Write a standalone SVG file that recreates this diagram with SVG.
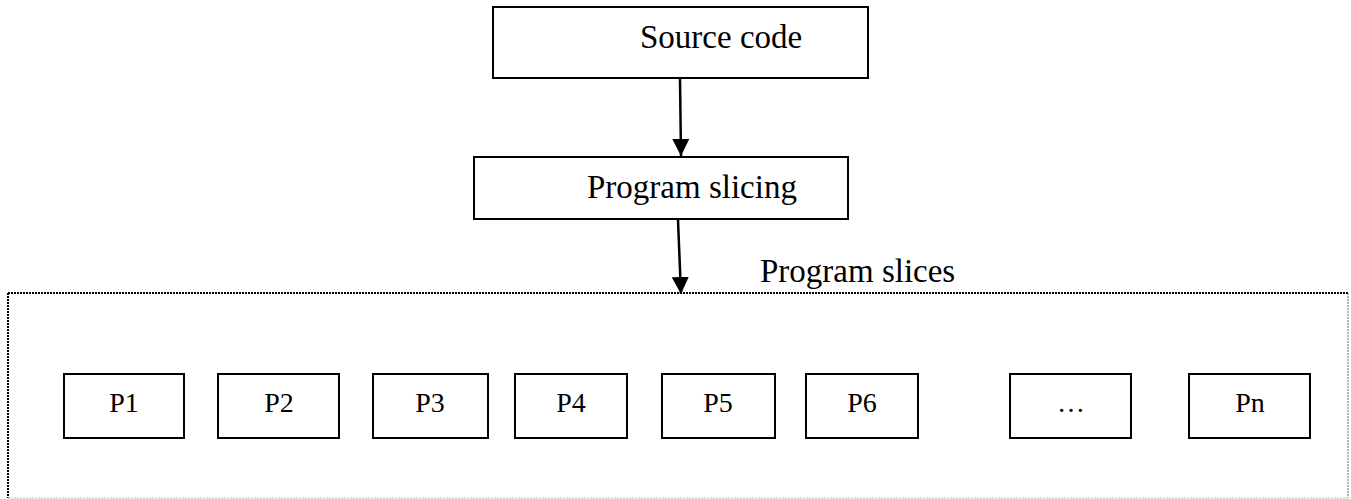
<svg xmlns="http://www.w3.org/2000/svg" width="1351" height="499" viewBox="0 0 1351 499">
<style>
.box{fill:#fff;stroke:#000;stroke-width:2}
.t{font-family:"Liberation Serif","Times New Roman",serif;font-size:33px;fill:#000}
.s{font-family:"Liberation Serif","Times New Roman",serif;font-size:28px;fill:#000;text-anchor:middle}
.conn{stroke:#000;stroke-width:2.5;fill:none}
</style>
<defs>
<marker id="arr" viewBox="0 0 10 10" refX="10" refY="5" markerWidth="6.8" markerHeight="6.8" markerUnits="strokeWidth" orient="auto">
<path d="M0,0 L10,5 L0,10 Z" fill="#000"/>
</marker>
</defs>
<rect width="1351" height="499" fill="#fff"/>
<g id="container">
<line x1="8" y1="293" x2="1348" y2="293" stroke="#000" stroke-width="2" stroke-dasharray="2,1"/>
<line x1="8" y1="293" x2="8" y2="498" stroke="#000" stroke-width="2" stroke-dasharray="2,1"/>
<line x1="1348" y1="293" x2="1348" y2="498" stroke="#666" stroke-width="1" stroke-dasharray="2,1"/>
<line x1="8" y1="498" x2="1348" y2="498" stroke="#bbb" stroke-width="1" stroke-dasharray="2,1"/>
<text class="t" x="760" y="282">Program slices</text>
</g>
<g id="source">
<rect class="box" x="493" y="7" width="375" height="71"/>
<text class="t" x="640" y="48">Source code</text>
</g>
<g id="slicing">
<rect class="box" x="474" y="157" width="374" height="62"/>
<text class="t" x="587" y="198">Program slicing</text>
</g>
<g id="p1"><rect class="box" x="64" y="374" width="120" height="64"/><text class="s" x="124" y="412">P1</text></g>
<g id="p2"><rect class="box" x="218" y="374" width="121" height="64"/><text class="s" x="279" y="412">P2</text></g>
<g id="p3"><rect class="box" x="373" y="374" width="115" height="64"/><text class="s" x="430" y="412">P3</text></g>
<g id="p4"><rect class="box" x="515" y="374" width="112" height="64"/><text class="s" x="571" y="412">P4</text></g>
<g id="p5"><rect class="box" x="662" y="374" width="113" height="64"/><text class="s" x="718" y="412">P5</text></g>
<g id="p6"><rect class="box" x="806" y="374" width="112" height="64"/><text class="s" x="862" y="412">P6</text></g>
<g id="pdots"><rect class="box" x="1010" y="374" width="121" height="64"/><text class="s" x="1071" y="412">…</text></g>
<g id="pn"><rect class="box" x="1189" y="374" width="121" height="64"/><text class="s" x="1250" y="412">Pn</text></g>
<g id="connectors">
<line class="conn" x1="680" y1="79" x2="681" y2="156" marker-end="url(#arr)"/>
<line class="conn" x1="678" y1="220" x2="681" y2="294" marker-end="url(#arr)"/>
</g>
</svg>
